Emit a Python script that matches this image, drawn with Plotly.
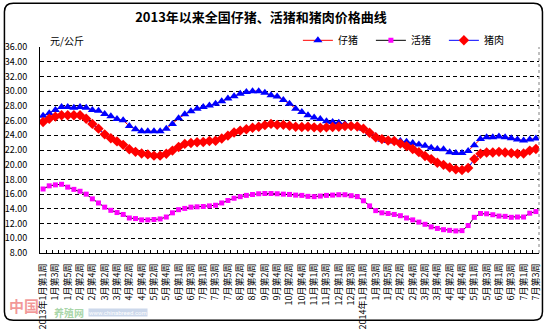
import plotly.graph_objects as go

TITLE = "2013年以来全国仔猪、活猪和猪肉价格曲线"
UNIT = "元/公斤"
SERIES_NAMES = ["仔猪", "活猪", "猪肉"]

# Calendar of weekly observations: Jan 2013 .. Jul 2014 (weeks per month)
years = [2013] * 12 + [2014] * 7
months = list(range(1, 13)) + list(range(1, 8))
weeks_in_month = [5, 4, 4, 4, 5, 4, 5, 4, 4, 5, 4, 4,
                  5, 4, 4, 5, 4, 4, 3]

# Prices, yuan per kg
piglet = [26.67, 26.98, 27.45, 27.84, 27.84, 27.75, 27.84, 27.75, 27.45, 27.32,
          26.89, 26.59, 26.20, 26.03, 25.25, 24.82, 24.55, 24.55, 24.55, 24.55,
          24.90, 25.55, 26.33, 26.85, 27.28, 27.62, 27.84, 28.06, 28.27, 28.62,
          29.00, 29.30, 29.65, 29.87, 30.00, 30.00, 29.78, 29.44, 29.27, 28.79,
          28.27, 27.62, 27.15, 26.72, 26.41, 26.20, 25.90, 25.81, 25.72, 25.55,
          25.38, 25.25, 24.90, 24.30, 23.87, 23.39, 23.22, 23.17, 23.22, 23.13,
          22.96, 22.74, 22.57, 22.31, 22.15, 22.10, 21.70, 21.58, 21.58, 21.88,
          22.66, 23.48, 23.74, 23.74, 23.82, 23.74, 23.60, 23.43, 23.30, 23.43,
          23.56]
hog = [16.70, 17.13, 17.26, 17.34, 16.95, 16.65, 16.39, 16.00, 15.36, 14.80,
       14.23, 13.80, 13.50, 13.24, 12.76, 12.68, 12.50, 12.50, 12.55, 12.63,
       12.89, 13.46, 13.89, 14.06, 14.23, 14.28, 14.32, 14.40, 14.49, 14.80,
       15.14, 15.44, 15.66, 15.83, 15.95, 16.05, 16.09, 16.09, 16.05, 16.00,
       15.96, 15.87, 15.83, 15.70, 15.66, 15.74, 15.83, 15.87, 15.92, 15.92,
       15.79, 15.66, 15.10, 14.40, 13.76, 13.46, 13.37, 13.24, 13.07, 12.76,
       12.50, 12.20, 11.90, 11.55, 11.34, 11.17, 11.08, 11.00, 11.04, 11.73,
       12.85, 13.37, 13.33, 13.20, 13.02, 12.98, 12.85, 12.89, 12.89, 13.41,
       13.63]
pork = [25.81, 26.24, 26.54, 26.72, 26.72, 26.72, 26.72, 26.24, 25.55, 24.90,
        24.13, 23.60, 23.17, 22.70, 22.10, 21.75, 21.53, 21.40, 21.23, 21.23,
        21.49, 21.92, 22.40, 22.83, 22.96, 23.05, 23.09, 23.22, 23.26, 23.56,
        23.95, 24.38, 24.64, 24.82, 25.03, 25.16, 25.38, 25.55, 25.42, 25.42,
        25.29, 25.16, 25.12, 25.16, 25.08, 25.03, 25.08, 25.12, 25.16, 25.25,
        25.25, 25.20, 24.90, 24.34, 23.74, 23.48, 23.30, 23.22, 22.87, 22.53,
        22.14, 21.71, 21.19, 20.76, 20.26, 19.98, 19.63, 19.37, 19.29, 19.55,
        20.76, 21.49, 21.66, 21.66, 21.75, 21.66, 21.58, 21.49, 21.53, 21.92,
        22.14]

# Category keys (unique) and the short labels shown under the axis
week_keys, week_labels = [], []
for yr, mo, n in zip(years, months, weeks_in_month):
    for wk in range(1, n + 1):
        week_keys.append(f"{yr}年{mo}月第{wk}周")
        prefix = f"{yr}年" if (mo == 1 and wk == 1) else ""
        week_labels.append(f"{prefix}{mo}月第{wk}周")

W, H = 547, 335
ML, MR, MT, MB = 37, 5, 47, 72
PW, PH = W - ML - MR, H - MT - MB


def px_x(x):
    return (x - ML) / PW


def px_y(y):
    return (H - MB - y) / PH


FONT = "Noto Sans CJK SC, Roboto, sans-serif"

fig = go.Figure()
fig.add_trace(go.Scatter(
    x=week_keys, y=piglet, name=SERIES_NAMES[0], mode="lines+markers",
    line=dict(color="#FF0000", width=1),
    marker=dict(symbol="triangle-up", size=8, color="#0000FF"),
))
fig.add_trace(go.Scatter(
    x=week_keys, y=hog, name=SERIES_NAMES[1], mode="lines+markers",
    line=dict(color="#000000", width=1),
    marker=dict(symbol="square", size=5, color="#FF00FF"),
))
fig.add_trace(go.Scatter(
    x=week_keys, y=pork, name=SERIES_NAMES[2], mode="lines+markers",
    line=dict(color="#0000FF", width=1),
    marker=dict(symbol="diamond", size=8, color="#FF0000"),
))
# helper axis carrying the small category boundary ticks
fig.add_trace(go.Scatter(x=[], y=[], xaxis="x2", showlegend=False,
                         hoverinfo="skip"))

n = len(week_keys)
fig.update_layout(
    width=W, height=H,
    margin=dict(l=ML, r=MR, t=MT, b=MB),
    paper_bgcolor="white", plot_bgcolor="white",
    font=dict(family=FONT, size=9, color="black"),
    title=dict(text=TITLE, x=261 / W, xref="container", xanchor="center",
               y=1 - 17 / H, yref="container", yanchor="middle",
               font=dict(size=13, color="black", family=FONT, weight="bold")),
    xaxis=dict(
        type="category", range=[-0.5, n - 0.5],
        tickmode="array", tickvals=week_keys[::2], ticktext=week_labels[::2],
        tickangle=-90, tickfont=dict(size=9), ticks="",
        showline=True, linecolor="black", linewidth=1,
        showgrid=False, zeroline=False, ticklabelstandoff=6,
    ),
    xaxis2=dict(
        overlaying="x", anchor="y", range=[-0.5, n - 0.5],
        tickmode="array", tickvals=[k - 0.5 for k in range(n + 1)],
        ticks="inside", ticklen=3, tickcolor="black", tickwidth=1,
        showticklabels=False, showgrid=False, showline=False, zeroline=False,
        side="bottom",
    ),
    yaxis=dict(
        range=[8, 36], dtick=2, tickformat=".2f",
        showgrid=True, gridcolor="black", gridwidth=1, griddash="4px,3px",
        showline=True, linecolor="black", linewidth=1,
        ticks="", zeroline=False, ticklabelstandoff=10,
        tickfont=dict(size=9),
    ),
    legend=dict(
        orientation="h", x=px_x(298), xanchor="left",
        y=px_y(40), yanchor="middle",
        entrywidth=28, entrywidthmode="pixels", itemwidth=30,
        font=dict(size=10), bgcolor="rgba(0,0,0,0)",
        tracegroupgap=0,
    ),
    showlegend=True,
)

fig.add_annotation(text=UNIT, xref="paper", yref="paper",
                   x=px_x(45), y=px_y(40), xanchor="left", yanchor="middle",
                   showarrow=False, font=dict(size=10, family=FONT))

# dotted right border of the plot area
fig.add_shape(type="line", xref="paper", yref="paper", x0=1, x1=1, y0=0, y1=1,
              line=dict(color="#808080", width=1, dash="dot"))

# rounded outer frame
r = 9
x0, x1, y0, y1 = 1, W - 1.5, 1, H - 1.5
path = (f"M {px_x(x0 + r)},{px_y(y0)} L {px_x(x1 - r)},{px_y(y0)} "
        f"Q {px_x(x1)},{px_y(y0)} {px_x(x1)},{px_y(y0 + r)} "
        f"L {px_x(x1)},{px_y(y1 - r)} Q {px_x(x1)},{px_y(y1)} {px_x(x1 - r)},{px_y(y1)} "
        f"L {px_x(x0 + r)},{px_y(y1)} Q {px_x(x0)},{px_y(y1)} {px_x(x0)},{px_y(y1 - r)} "
        f"L {px_x(x0)},{px_y(y0 + r)} Q {px_x(x0)},{px_y(y0)} {px_x(x0 + r)},{px_y(y0)} Z")
fig.add_shape(type="path", path=path, xref="paper", yref="paper",
              line=dict(color="black", width=1.5), fillcolor="rgba(0,0,0,0)",
              layer="above")

# site watermark, kept clear of the week labels
fig.add_annotation(text="<b>中国</b>", xref="paper", yref="paper",
                   x=px_x(4), y=px_y(318), xanchor="left", yanchor="middle",
                   showarrow=False, opacity=0.4,
                   font=dict(size=15, color="#E00000", family=FONT))
fig.add_annotation(text="<b>养殖网</b>", xref="paper", yref="paper",
                   x=px_x(49), y=px_y(325), xanchor="left", yanchor="middle",
                   showarrow=False, opacity=0.4,
                   font=dict(size=10, color="#2A9A2A", family=FONT))
fig.add_annotation(text="www.chinabreed.com", xref="paper", yref="paper",
                   x=px_x(86), y=px_y(325.5), xanchor="left", yanchor="middle",
                   showarrow=False, opacity=0.5, bgcolor="#9BB3D9",
                   borderpad=0,
                   font=dict(size=6, color="white", family="Roboto"))

fig.write_html("out.html")
